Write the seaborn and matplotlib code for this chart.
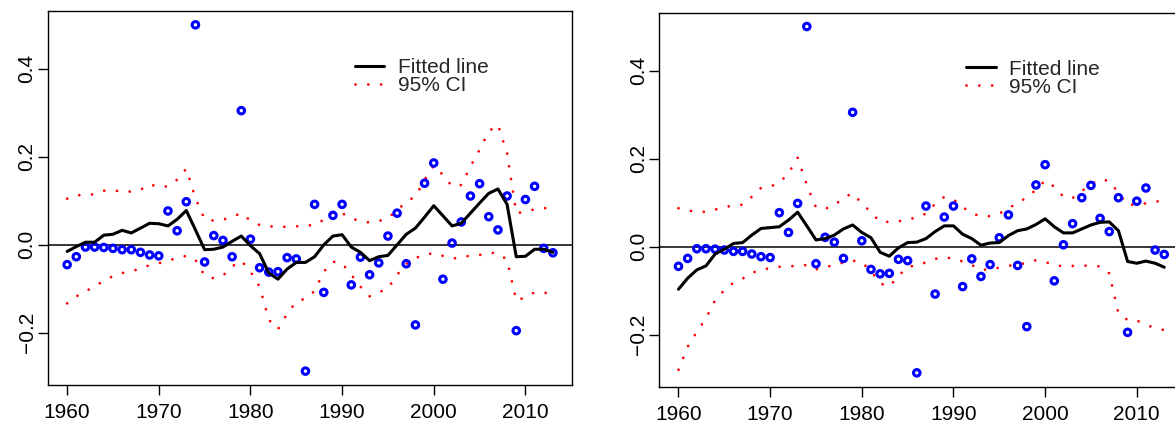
import numpy as np
import pandas as pd
import matplotlib
matplotlib.use("Agg")
import matplotlib.pyplot as plt
import seaborn as sns
from matplotlib.lines import Line2D

years = list(range(1960, 2014))

# observed values (same in both panels)
obs = [-0.045, -0.027, -0.005, -0.005, -0.006, -0.008, -0.011, -0.011, -0.017, -0.023,
       -0.025, 0.077, 0.032, 0.098, 0.500, -0.039, 0.021, 0.010, -0.027, 0.305,
       0.013, -0.052, -0.062, -0.061, -0.029, -0.032, -0.287, 0.092, -0.108, 0.067,
       0.092, -0.091, -0.028, -0.068, -0.041, 0.020, 0.072, -0.043, -0.182, 0.140,
       0.186, -0.078, 0.004, 0.052, 0.111, 0.139, 0.064, 0.034, 0.111, -0.195,
       0.103, 0.133, -0.008, -0.018]

# left panel
fit_left = [-0.015, -0.004, 0.006, 0.006, 0.022, 0.024, 0.033, 0.027, 0.038, 0.049,
            0.048, 0.043, 0.058, 0.078, 0.034, -0.011, -0.010, -0.005, 0.008, 0.020,
            -0.002, -0.020, -0.064, -0.078, -0.055, -0.040, -0.040, -0.027, 0.000, 0.020,
            0.023, -0.005, -0.017, -0.036, -0.027, -0.024, 0.000, 0.024, 0.038, 0.063,
            0.089, 0.066, 0.043, 0.049, 0.072, 0.095, 0.117, 0.127, 0.092, -0.027,
            -0.026, -0.010, -0.010, -0.017]
upper_left = [0.105, 0.113, 0.113, 0.115, 0.123, 0.124, 0.121, 0.121, 0.125, 0.138,
              0.131, 0.133, 0.148, 0.173, 0.106, 0.058, 0.055, 0.057, 0.064, 0.072,
              0.055, 0.045, 0.042, 0.041, 0.041, 0.042, 0.044, 0.045, 0.057, 0.074,
              0.072, 0.061, 0.053, 0.051, 0.054, 0.061, 0.078, 0.098, 0.110, 0.148,
              0.180, 0.159, 0.133, 0.136, 0.178, 0.216, 0.258, 0.273, 0.208, 0.072,
              0.075, 0.081, 0.083, 0.085]
lower_left = [-0.133, -0.117, -0.106, -0.094, -0.082, -0.071, -0.064, -0.060, -0.054, -0.046,
              -0.042, -0.036, -0.030, -0.025, -0.034, -0.070, -0.076, -0.070, -0.049, -0.036,
              -0.061, -0.095, -0.170, -0.192, -0.157, -0.129, -0.122, -0.105, -0.061, -0.038,
              -0.042, -0.068, -0.095, -0.117, -0.108, -0.099, -0.068, -0.043, -0.030, -0.022,
              -0.019, -0.025, -0.031, -0.029, -0.024, -0.023, -0.018, -0.019, -0.034, -0.127,
              -0.119, -0.108, -0.108, -0.114]

# right panel
fit_right = [-0.097, -0.072, -0.053, -0.044, -0.017, -0.006, 0.007, 0.009, 0.026, 0.041,
             0.043, 0.045, 0.060, 0.078, 0.047, 0.015, 0.018, 0.026, 0.040, 0.049,
             0.032, 0.020, -0.013, -0.022, -0.003, 0.009, 0.010, 0.018, 0.034, 0.047,
             0.047, 0.028, 0.018, 0.003, 0.008, 0.009, 0.025, 0.036, 0.040, 0.050,
             0.063, 0.045, 0.031, 0.031, 0.040, 0.049, 0.055, 0.056, 0.036, -0.034,
             -0.038, -0.033, -0.038, -0.047]
upper_right = [0.087, 0.082, 0.079, 0.079, 0.084, 0.089, 0.094, 0.095, 0.113, 0.133,
               0.136, 0.145, 0.166, 0.202, 0.140, 0.089, 0.086, 0.093, 0.111, 0.121,
               0.098, 0.078, 0.056, 0.056, 0.057, 0.063, 0.065, 0.075, 0.097, 0.113,
               0.107, 0.090, 0.075, 0.069, 0.069, 0.075, 0.086, 0.100, 0.111, 0.129,
               0.150, 0.136, 0.113, 0.110, 0.126, 0.141, 0.153, 0.149, 0.122, 0.094,
               0.096, 0.098, 0.102, 0.104]
lower_right = [-0.280, -0.228, -0.194, -0.163, -0.122, -0.099, -0.082, -0.073, -0.060, -0.053,
               -0.049, -0.046, -0.045, -0.044, -0.042, -0.052, -0.046, -0.043, -0.036, -0.032,
               -0.036, -0.055, -0.084, -0.091, -0.067, -0.046, -0.043, -0.036, -0.028, -0.025,
               -0.027, -0.034, -0.042, -0.053, -0.052, -0.048, -0.044, -0.040, -0.038, -0.031,
               -0.035, -0.042, -0.045, -0.044, -0.043, -0.044, -0.045, -0.061, -0.152, -0.167,
               -0.168, -0.178, -0.185, -0.190]

xticks = [1960, 1970, 1980, 1990, 2000, 2010]
yticks = [-0.2, 0.0, 0.2, 0.4]
legend_labels = ["Fitted line", "95% CI"]

sns.set_style("ticks")
plt.rcParams['font.family'] = ['Liberation Sans', 'DejaVu Sans']

fig = plt.figure(figsize=(11.75, 4.22), dpi=100)
ax1 = fig.add_axes([0.0406, 0.0877, 0.4465, 0.8863])
ax2 = fig.add_axes([0.5609, 0.0837, 0.4465, 0.8863])

dot_style = dict(color="red", lw=2.0, linestyle=(0, (0.01, 4.6)), dash_capstyle="round")
FS = 15


def draw_panel(ax, fit, upper, lower):
    df = pd.DataFrame({"year": years, "obs": obs, "fit": fit, "upper": upper, "lower": lower})
    sns.scatterplot(data=df, x="year", y="obs", ax=ax, marker="o", s=22,
                    facecolor="none", edgecolor="blue", linewidth=2.2, zorder=3)
    sns.lineplot(data=df, x="year", y="fit", ax=ax, color="black", lw=2.2, zorder=4)
    sns.lineplot(data=df, x="year", y="upper", ax=ax, zorder=2, **dot_style)
    sns.lineplot(data=df, x="year", y="lower", ax=ax, zorder=2, **dot_style)
    ax.axhline(0, color="black", lw=1.1, zorder=1)

    # R-style 4% padding
    xr = years[-1] - years[0]
    ax.set_xlim(years[0] - 0.04 * xr, years[-1] + 0.04 * xr)
    yr = max(obs) - min(obs)
    ax.set_ylim(min(obs) - 0.04 * yr, max(obs) + 0.04 * yr)

    ax.set_xticks(xticks)
    ax.set_xticklabels([str(t) for t in xticks])
    ax.set_yticks(yticks)
    ax.set_yticklabels([f"{t:.1f}".replace("-", "\u2212") for t in yticks],
                       rotation=90, va="center")
    ax.tick_params(labelsize=FS, length=7, width=1, colors="black")
    ax.tick_params(axis="x", pad=6)
    ax.tick_params(axis="y", pad=1)
    ax.set_xlabel("")
    ax.set_ylabel("")
    for s in ax.spines.values():
        s.set_visible(True)
        s.set_linewidth(1.0)
        s.set_color("black")

    handles = [Line2D([], [], color="black", lw=2.2),
               Line2D([], [], **dot_style)]
    ax.legend(handles, legend_labels, loc="upper left", bbox_to_anchor=(0.586, 0.874),
              frameon=False, fontsize=FS, handlelength=1.4, handletextpad=0.65,
              labelspacing=-0.05, borderpad=0, borderaxespad=0)


draw_panel(ax1, fit_left, upper_left, lower_left)
draw_panel(ax2, fit_right, upper_right, lower_right)

fig.savefig("out.png", dpi=100)
